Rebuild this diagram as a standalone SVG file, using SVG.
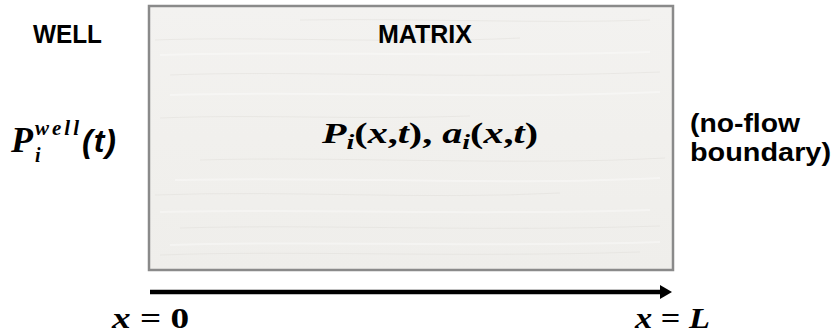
<svg xmlns="http://www.w3.org/2000/svg" width="833" height="334" viewBox="0 0 833 334">
<style>
.sans{font-family:"Liberation Sans","Open Sans",sans-serif;font-weight:bold;fill:#000}
.math{font-family:"Liberation Serif","DejaVu Serif",serif;font-weight:bold;fill:#000}
.it{font-style:italic}
.grain{stroke:#ffffff;stroke-width:2;opacity:0.35;fill:none}
.grain2{stroke:#dedbd6;stroke-width:1;opacity:0.45;fill:none}
</style>
<defs>
<linearGradient id="wood" x1="0" y1="0" x2="0" y2="1">
<stop offset="0" stop-color="#f3f2f0"/>
<stop offset="0.5" stop-color="#f1f0ed"/>
<stop offset="1" stop-color="#efeeeb"/>
</linearGradient>
<marker id="head" viewBox="0 0 12 14" refX="0" refY="7" markerWidth="12" markerHeight="14" markerUnits="userSpaceOnUse" orient="auto">
<path d="M0,0 L12,7 L0,14 Z" fill="#000"/>
</marker>
</defs>
<rect width="833" height="334" fill="#ffffff"/>

<g id="matrix">
<rect x="149" y="6" width="524" height="264" fill="url(#wood)" stroke="#8a8a8a" stroke-width="2.5"/>
<path class="grain2" d="M155,40 C260,36 400,44 520,38 M170,75 C300,70 450,80 660,72 M160,118 C260,114 350,120 470,116 M200,160 C330,156 520,166 665,158 M155,195 C290,190 420,200 560,193 M180,228 C320,224 480,232 660,226 M160,255 C300,250 450,258 640,252 M300,20 C420,18 540,24 650,20"/>
<path class="grain" d="M160,55 C300,50 450,58 650,52 M170,95 C320,90 480,100 660,92 M175,180 C330,176 500,186 660,178 M160,212 C300,208 460,216 650,210 M170,245 C320,240 480,248 660,242"/>
<text class="sans" x="425" y="43" font-size="25" text-anchor="middle">MATRIX</text>
<text class="math" x="322" y="143" font-size="30" textLength="216" lengthAdjust="spacingAndGlyphs"><tspan class="it">P</tspan><tspan class="it" font-size="21" dy="6">i</tspan><tspan dy="-6">(</tspan><tspan class="it">x</tspan>,<tspan class="it">t</tspan>), <tspan class="it">a</tspan><tspan class="it" font-size="21" dy="6">i</tspan><tspan dy="-6">(</tspan><tspan class="it">x</tspan>,<tspan class="it">t</tspan>)</text>
</g>

<g id="well">
<text class="sans" x="33" y="43" font-size="25" textLength="69" lengthAdjust="spacingAndGlyphs">WELL</text>
<text class="math it" x="11" y="152" font-size="36">P<tspan x="35" dy="-17" font-size="21" letter-spacing="3">well</tspan><tspan x="35" dy="27" font-size="20">i</tspan><tspan class="sans it" x="82" dy="-10" font-size="32" letter-spacing="1">(t)</tspan></text>
</g>

<g id="boundary">
<text class="sans" x="690" y="132" font-size="25" textLength="110" lengthAdjust="spacingAndGlyphs">(no-flow</text>
<text class="sans" x="690" y="161" font-size="25" textLength="141" lengthAdjust="spacingAndGlyphs">boundary)</text>
</g>

<g id="connectors">
<line x1="150" y1="292" x2="660" y2="292" stroke="#000" stroke-width="4.5" marker-end="url(#head)"/>
</g>

<g id="axis-labels">
<text class="math" x="112" y="328" font-size="30" textLength="77" lengthAdjust="spacingAndGlyphs"><tspan class="it">x</tspan> = 0</text>
<text class="math" x="635" y="328" font-size="30" textLength="75" lengthAdjust="spacingAndGlyphs"><tspan class="it">x</tspan> = <tspan class="it">L</tspan></text>
</g>
</svg>
